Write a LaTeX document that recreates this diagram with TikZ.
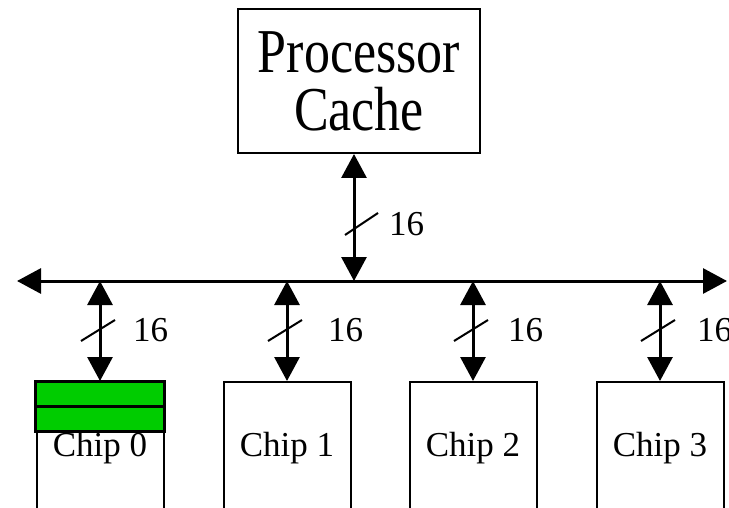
\documentclass[tikz,border=0pt]{standalone}
\usepackage{fontspec}
\setmainfont{Liberation Serif}
\usetikzlibrary{arrows.meta,positioning}
\definecolor{chipgreen}{RGB}{0,204,0}
\tikzset{>={Triangle[length=24pt,width=25pt]},box/.style={draw,line width=2pt,inner sep=0pt},
  bus/.style={line width=3pt,<->},link/.style={line width=3pt,<->},slash/.style={line width=2pt},
  chip/.style={box,minimum width=127pt,minimum height=132pt,font=\fontsize{35}{40}\selectfont},
  lbl/.style={font=\fontsize{35}{40}\selectfont,inner sep=0pt,anchor=west},
  bar/.style={draw,line width=3pt,fill=chipgreen}}
\newcommand{\tall}[1]{\scalebox{1}[1.2]{#1}}

\begin{document}
\begin{tikzpicture}[x=1pt,y=-1pt]
\useasboundingbox (0,0) rectangle (729,508);\clip (0,0) rectangle (729,508);
\node[box,minimum width=242pt,minimum height=144pt,align=center,font=\fontsize{52}{58}\selectfont] (cpu) at (359,81){\tall{Processor}\\\tall{Cache}};
\coordinate (busL) at (17,281);\coordinate (busR) at (727,281);
\draw[bus] (busL)--(busR);
\draw[link] ([xshift=-5pt]cpu.south)--([xshift=-5pt]cpu.south |- busL);
\draw[slash] ([shift={(-14,11)}]cpu.south |- 0,224)--++(33,-22);\node[lbl] (wcpu) at (389,224){16};
\foreach \i/\cx/\lx in {0/100/133,1/287/328,2/473/508,3/660/697}{
  \node[chip] (chip\i) at (\cx,448){Chip \i};
  \draw[link] (chip\i.north)--(chip\i.north |- busL);
  \draw[slash] ([shift={(-19,11)}]chip\i.north |- 0,330)--++(34,-21);
  \node[lbl] (w\i) at (\lx,330){16};}
\draw[bar] (chip0.north west) rectangle ([yshift=-25pt]chip0.north east);
\draw[bar] ([yshift=-25pt]chip0.north west) rectangle ([yshift=-50pt]chip0.north east);
\end{tikzpicture}
\end{document}
